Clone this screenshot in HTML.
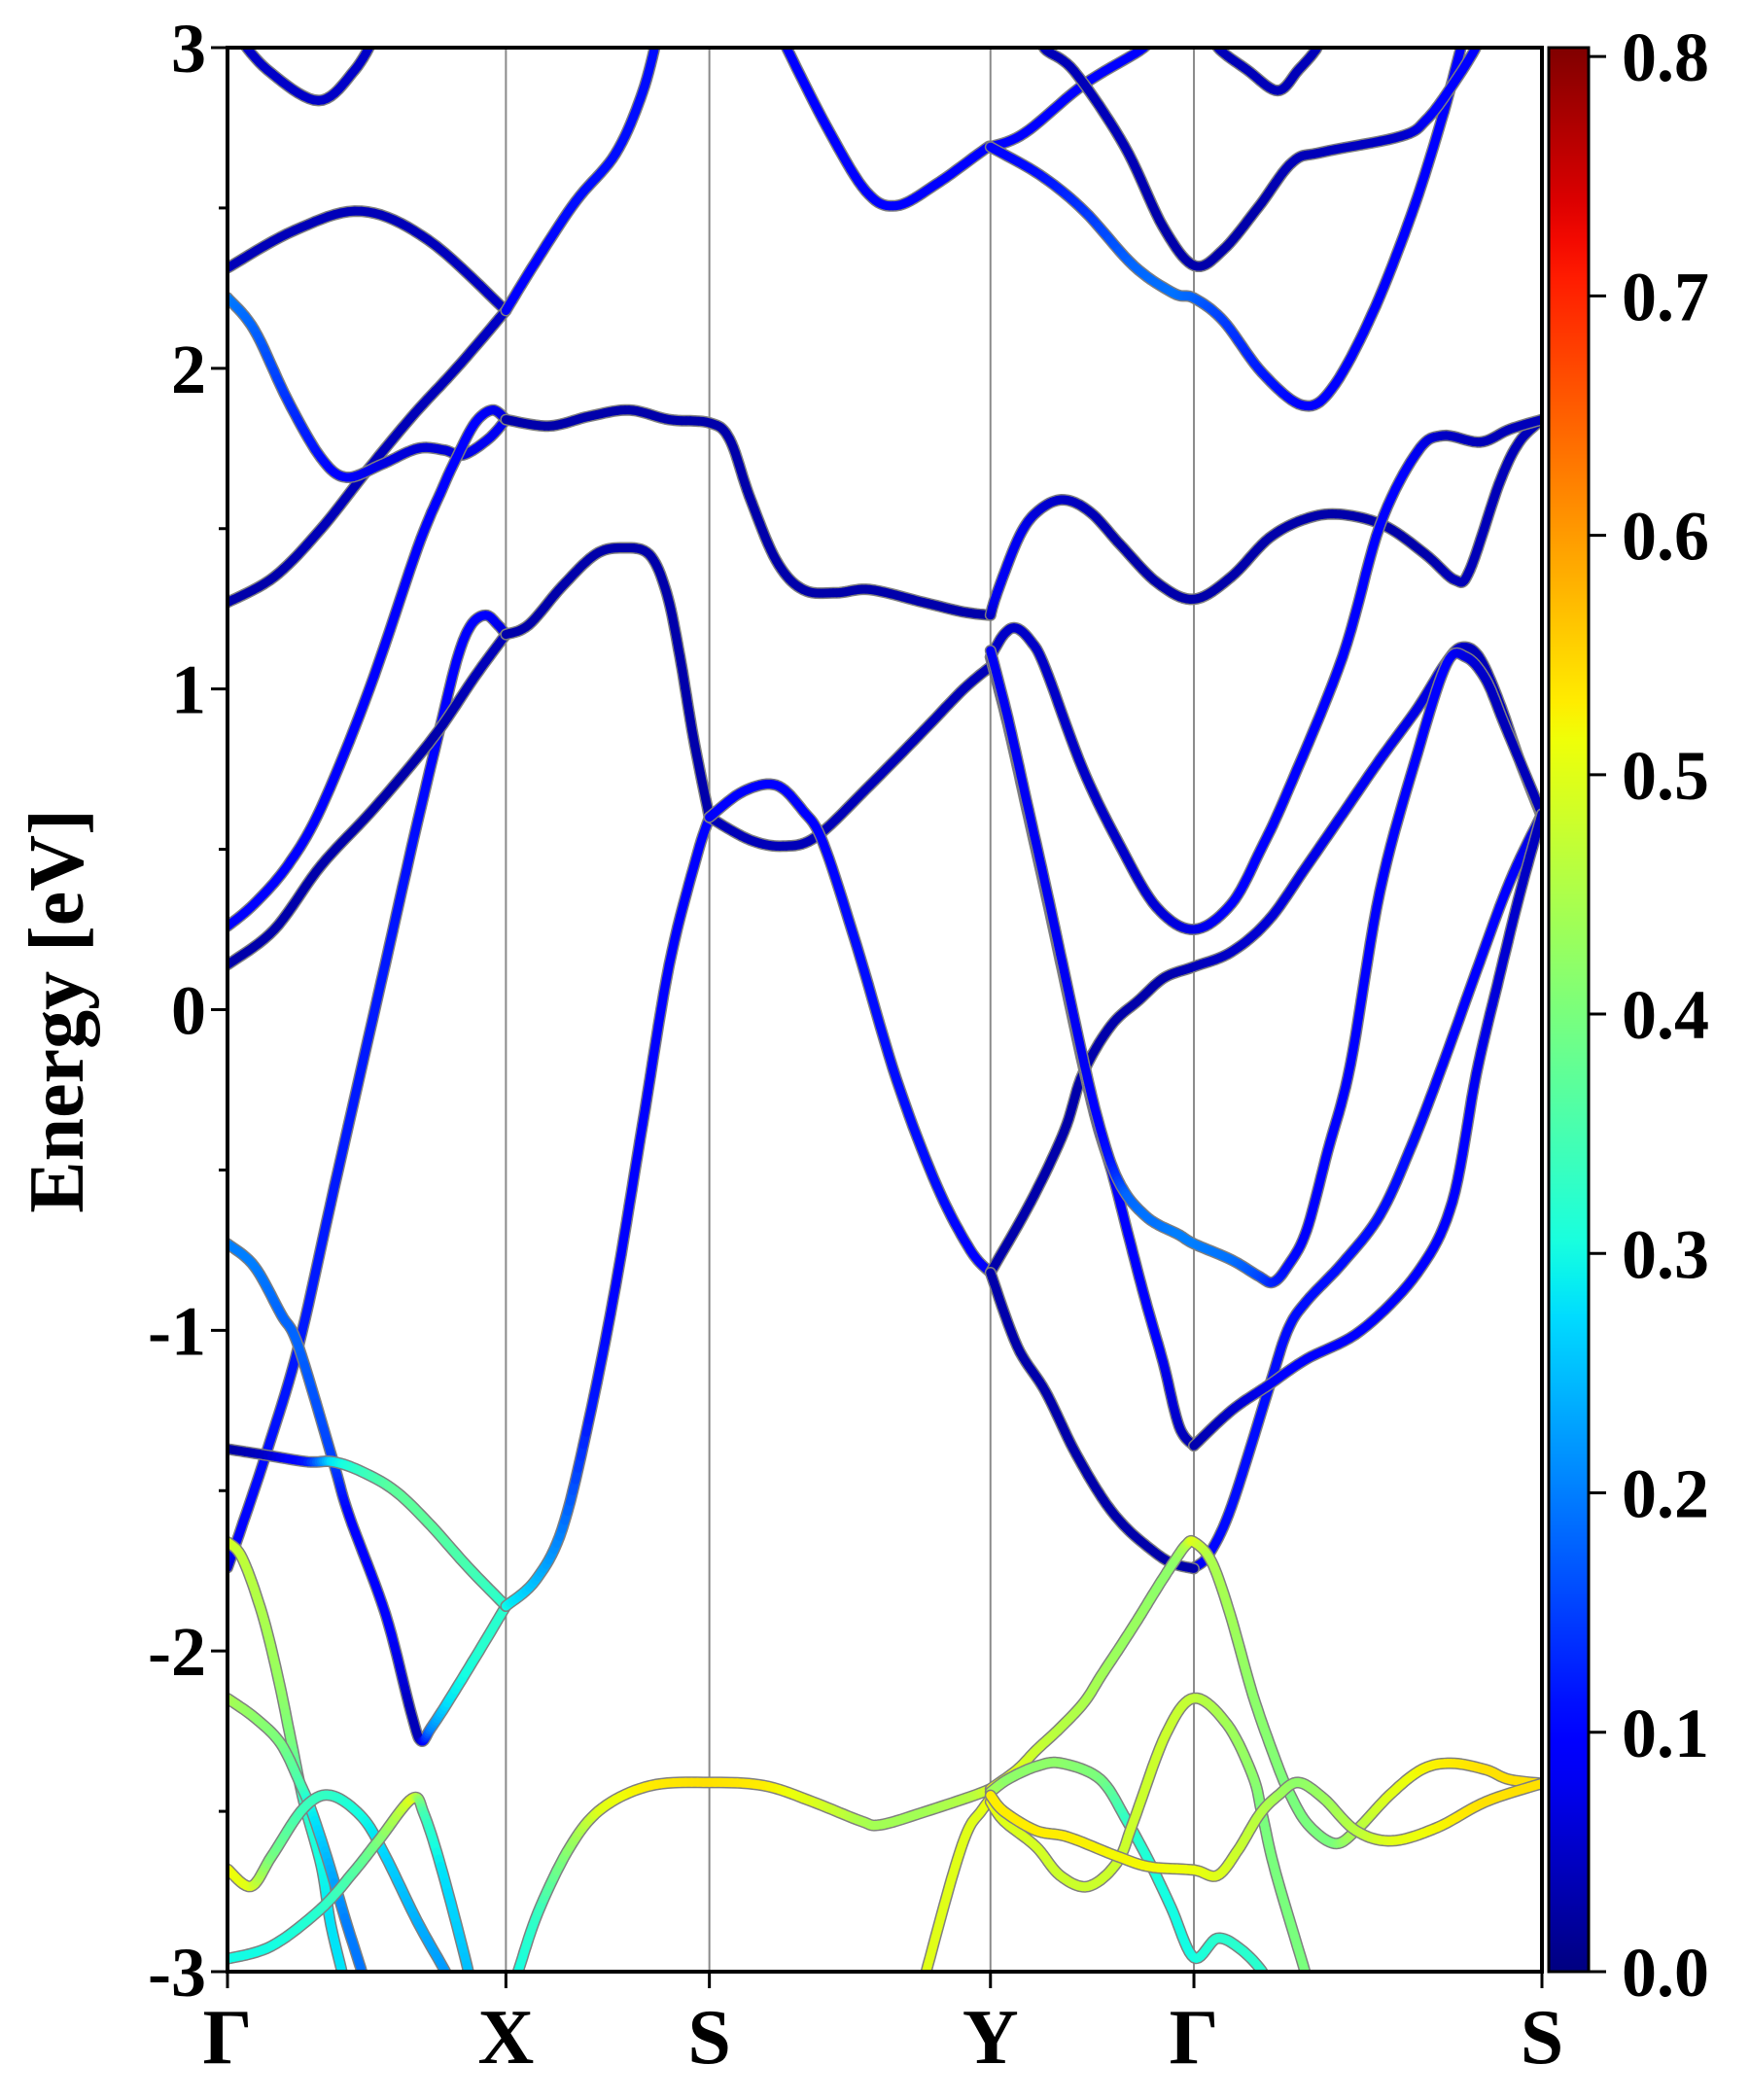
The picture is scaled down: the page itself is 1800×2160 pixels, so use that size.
<!DOCTYPE html>
<html><head><meta charset="utf-8">
<style>
html,body{margin:0;padding:0;background:#fff;}
svg{display:block;}
text{font-family:"Liberation Serif","DejaVu Serif",serif;font-weight:bold;fill:#000;}
</style></head>
<body>
<svg id="chart" xmlns="http://www.w3.org/2000/svg" width="1800" height="2160" viewBox="0 0 1800 2160">
<rect x="0" y="0" width="1800" height="2160" fill="#fff"/>
<defs>
<clipPath id="plotclip"><rect x="234" y="49" width="1352" height="1979"/></clipPath>
<linearGradient id="jet" x1="0" y1="1" x2="0" y2="0"></linearGradient>
</defs>
<g id="grid"></g>
<g id="bands" clip-path="url(#plotclip)"></g>
<g id="axes"></g>
<text x="0" y="0" font-size="80" text-anchor="middle" transform="translate(85,1040) rotate(-90)">Energy [eV]</text>
<rect x="1593" y="49" width="41" height="1979" fill="url(#jet)" stroke="#000" stroke-width="3"/>
<g id="cbar"></g>
</svg>
<script>
// ---- axis data ----
const kTickPos = [0, 208, 360, 570, 722, 982];
const kTickLabels = ["Γ", "X", "S", "Y", "Γ", "S"];
const eTicks = [3, 2, 1, 0, -1, -2, -3];
const eTickLabels = ["3", "2", "1", "0", "-1", "-2", "-3"];
const cbTicks = [0.0, 0.1, 0.2, 0.3, 0.4, 0.5, 0.6, 0.7, 0.8];
const cbTickLabels = ["0.0", "0.1", "0.2", "0.3", "0.4", "0.5", "0.6", "0.7", "0.8"];
const cbMax = 0.8037;

// ---- band data: [k, energy(eV), weight] ----
const bandA1 = [[5,3.05,.05],[30,2.93,.05],[68,2.835,.05],[95,2.93,.05],[112,3.05,.05]];
const bandA2 = [[0,2.313,.04],[50,2.43,.04],[100,2.49,.04],[150,2.40,.04],[208,2.18,.05]];
const bandA3 = [[0,1.27,.03],[35,1.35,.03],[70,1.50,.04],[106,1.69,.04],[140,1.86,.04],[171,2.0,.04],[208,2.18,.05]];
const bandXT = [[208,2.18,.08],[230,2.33,.1],[260,2.52,.11],[290,2.67,.11],[310,2.86,.11],[322,3.05,.11]];
const bandA4 = [[0,2.22,.2],[20,2.12,.18],[45,1.90,.14],[70,1.72,.11],[89,1.66,.09],[115,1.70,.07],[142,1.75,.06],[162,1.745,.06],[176,1.73,.07],[195,1.78,.08],[208,1.84,.08]];
const bandA5 = [[0,0.26,.1],[20,0.33,.1],[45,0.45,.1],[70,0.63,.1],[106,1.0,.1],[142,1.44,.1],[160,1.62,.1],[171,1.72,.1],[185,1.83,.09],[198,1.87,.08],[208,1.84,.07]];
const bandA6 = [[0,-1.74,.05],[10,-1.62,.1],[30,-1.37,.11],[53,-1.05,.12],[80,-0.55,.12],[115,0.09,.12],[140,0.55,.11],[160,0.9,.1],[172,1.1,.1],[182,1.2,.1],[193,1.23,.09],[202,1.2,.08],[208,1.17,.06]];
const bandA7 = [[0,0.14,.03],[35,0.25,.03],[70,0.45,.03],[110,0.63,.03],[154,0.85,.03],[185,1.04,.04],[208,1.17,.04]];
const bandA8 = [[0,-0.73,.2],[20,-0.80,.2],[40,-0.95,.18],[53,-1.05,.18],[79,-1.41,.15],[91,-1.58,.1],[118,-1.885,.1],[137,-2.19,.04],[144.5,-2.28,.04],[152,-2.24,.2],[166,-2.15,.28],[190,-1.986,.32],[208,-1.86,.32]];
const bandA9 = [[0,-1.37,.02],[30,-1.39,.05],[60,-1.41,.12],[79,-1.41,.28],[100,-1.44,.33],[125,-1.5,.37],[150,-1.6,.37],[180,-1.74,.35],[208,-1.86,.32]];
const bandXS = [[208,-1.86,.3],[230,-1.78,.25],[250,-1.62,.2],[270,-1.28,.12],[290,-0.86,.1],[310,-0.36,.1],[330,0.14,.1],[350,0.47,.1],[360,0.6,.1]];
const bandXSdark = [[208,1.84,.03],[240,1.82,.03],[270,1.85,.03],[300,1.87,.03],[330,1.84,.03],[360,1.83,.03],[375,1.78,.03],[390,1.6,.03],[410,1.40,.03],[430,1.31,.03],[455,1.30,.03],[480,1.31,.03],[520,1.27,.03],[550,1.24,.03],[570,1.23,.03]];
const bandXSpeak = [[208,1.17,.03],[225,1.2,.03],[250,1.32,.03],[275,1.42,.03],[295,1.44,.03],[315,1.42,.03],[328,1.3,.03],[338,1.1,.03],[348,0.85,.03],[360,0.6,.03]];
const bandS1 = [[360,0.6,.04],[390,0.53,.04],[415,0.51,.04],[440,0.54,.04],[480,0.7,.04],[520,0.87,.04],[550,1.0,.04],[570,1.07,.04]];
const bandS2 = [[360,0.6,.08],[385,0.68,.1],[410,0.7,.1],[430,0.62,.1],[445,0.52,.1],[470,0.2,.11],[500,-0.22,.11],[530,-0.55,.11],[555,-0.75,.1],[570,-0.82,.08]];
const bandU1 = [[412,3.05,.1],[418,2.997,.1],[447.6,2.754,.1],[477,2.552,.1],[499.5,2.507,.1],[529,2.573,.1],[566,2.684,.1],[570,2.69,.1],[595.7,2.734,.1],[640,2.886,.1],[684.6,3.0,.1],[690,3.05,.1]];
const bandU2 = [[570,2.69,.1],[607,2.603,.11],[640,2.491,.14],[677,2.32,.18],[707,2.234,.19],[722,2.219,.18],[744,2.148,.15],[773,1.986,.12],[803,1.885,.1],[825,1.936,.1],[855,2.168,.1],[884.5,2.48,.1],[907,2.775,.1],[921.5,3.0,.1],[925,3.05,.1]];
const bandU3 = [[608,3.05,.04],[610.5,2.997,.04],[632.7,2.926,.04],[670,2.694,.04],[699,2.441,.03],[722.4,2.32,.03],[744,2.37,.03],[770,2.502,.03],[795.6,2.643,.04],[818,2.674,.04],[877,2.724,.05],[895.6,2.775,.08],[914,2.876,.1],[932.6,3.0,.1],[935,3.05,.1]];
const bandU4 = [[738,3.05,.04],[740,3.0,.04],[762,2.93,.04],[784.5,2.866,.04],[800,2.93,.04],[814,3.0,.04],[816,3.05,.04]];
const bandM1 = [[570,1.23,.04],[575,1.30,.08],[592,1.48,.08],[607,1.56,.06],[625,1.59,.05],[645,1.55,.04],[667,1.45,.03],[695,1.33,.03],[722,1.28,.03],[750,1.35,.03],[778,1.47,.03],[805,1.53,.03],[831,1.545,.03],[864,1.51,.03],[895,1.42,.03],[917,1.34,.04],[928,1.37,.04],[950,1.64,.04],[965,1.77,.04],[982,1.84,.04]];
const bandCa = [[570,1.10,.05],[580,1.17,.05],[589,1.19,.05],[600,1.15,.05],[611,1.065,.05],[639,0.75,.05],[667,0.51,.05],[694,0.32,.06],[722,0.25,.07],[750,0.33,.09],[772,0.5,.1],[792,0.68,.1],[833,1.1,.1],[861,1.51,.1],[889,1.74,.08],[908,1.79,.05],[936,1.77,.04],[958,1.81,.04],[982,1.84,.04]];
const bandCb = [[570,-0.82,.03],[600,-0.6,.03],[625,-0.38,.03],[639,-0.2,.03],[660,-0.05,.03],[681,0.03,.03],[700,0.1,.03],[722,0.134,.04],[750,0.18,.05],[778,0.28,.06],[805,0.44,.07],[833,0.61,.08],[861,0.78,.08],[889,0.94,.07],[910,1.08,.06],[922,1.13,.05],[935,1.1,.04],[950,0.96,.04],[965,0.78,.04],[982,0.6,.04]];
const bandP = [[570,1.10,.03],[583,0.89,.03],[597,0.63,.03],[611,0.37,.03],[625,0.10,.03],[639,-0.17,.04],[650,-0.36,.06],[661,-0.51,.08],[674,-0.72,.1],[686,-0.91,.1],[699,-1.1,.08],[711,-1.30,.05],[722,-1.36,.03]];
const bandQ = [[570,1.12,.08],[583,0.91,.08],[597,0.65,.08],[611,0.39,.08],[625,0.12,.08],[639,-0.15,.08],[650,-0.34,.09],[661,-0.49,.12],[672,-0.58,.18],[685,-0.64,.19],[695,-0.67,.19],[710,-0.70,.2],[722,-0.73,.2],[750,-0.78,.19],[770,-0.83,.16],[781,-0.85,.13],[792,-0.80,.11],[806,-0.69,.1],[822,-0.44,.1],[839,-0.17,.1],[861,0.37,.1],[889,0.80,.1],[911,1.08,.09],[925,1.10,.07],[940,1.03,.05],[955,0.88,.04],[982,0.61,.04]];
const bandR1 = [[722,-1.74,.05],[733,-1.70,.1],[750,-1.55,.11],[778,-1.18,.11],[792,-1.0,.11],[806,-0.91,.11],[833,-0.79,.11],[861,-0.64,.11],[885,-0.42,.11],[908,-0.17,.1],[933,0.12,.1],[958,0.40,.09],[982,0.61,.06]];
const bandR2 = [[722,-1.36,.03],[750,-1.25,.05],[778,-1.17,.08],[806,-1.09,.1],[847,-1.0,.1],[889,-0.82,.1],[915,-0.6,.1],[933,-0.2,.08],[950,0.1,.06],[966,0.37,.05],[982,0.61,.04]];
const bandDG = [[570,-0.82,.03],[590,-1.05,.03],[611,-1.19,.03],[632,-1.37,.03],[653,-1.52,.03],[670,-1.61,.03],[689,-1.68,.03],[705,-1.725,.03],[722,-1.743,.03]];
const bandA10 = [[0,-1.66,.5],[11,-1.71,.47],[26,-1.885,.45],[38,-2.087,.43],[48,-2.29,.4],[57,-2.47,.33],[70,-2.67,.3],[77,-2.85,.28],[86,-3.01,.28],[87,-3.05,.28]];
const bandA11 = [[0,-2.148,.45],[21,-2.21,.42],[40,-2.29,.4],[55,-2.42,.35],[62,-2.49,.3],[74,-2.64,.25],[89,-2.85,.2],[101,-3.01,.19],[102,-3.05,.19]];
const bandA12 = [[0,-2.68,.52],[17.5,-2.734,.5],[33,-2.64,.4],[57,-2.49,.34],[77,-2.45,.33],[101,-2.52,.3],[118,-2.64,.27],[142,-2.845,.24],[164,-3.01,.22],[166,-3.05,.22]];
const bandA13 = [[0,-2.96,.3],[33,-2.92,.3],[69.5,-2.805,.32],[94,-2.69,.36],[113,-2.59,.4],[138,-2.46,.5],[147,-2.51,.35],[161,-2.695,.28],[180,-3.0,.25],[181,-3.05,.25]];
const bandXS1 = [[212,-3.05,.3],[217,-3.0,.3],[232,-2.815,.33],[256,-2.61,.42],[280,-2.49,.5],[316,-2.42,.53],[360,-2.41,.54],[401,-2.42,.53],[437,-2.47,.5],[473,-2.53,.45],[488,-2.542,.44],[522,-2.50,.44],[558,-2.45,.46],[570,-2.43,.5]];
const bandSY2 = [[519,-3.05,.5],[522,-3.0,.5],[541,-2.71,.5],[553,-2.56,.5],[563,-2.5,.5],[570,-2.46,.52]];
const bandYG1 = [[570,-2.43,.52],[590,-2.37,.5],[604,-2.31,.48],[622,-2.24,.46],[640,-2.16,.45],[653,-2.075,.44],[668,-1.98,.43],[681,-1.895,.43],[695,-1.8,.42],[708,-1.716,.42],[716,-1.67,.45],[722,-1.66,.5],[735,-1.72,.45],[749,-1.885,.44],[766,-2.137,.42],[783,-2.34,.41],[793,-2.44,.4],[807,-2.54,.4],[827,-2.60,.4],[843,-2.56,.45],[868,-2.45,.5],[892,-2.37,.52],[914,-2.35,.53],[940,-2.37,.54],[957,-2.40,.54],[982,-2.413,.54]];
const bandYG2 = [[570,-2.44,.45],[583,-2.40,.42],[604,-2.36,.42],[623,-2.35,.42],[652,-2.40,.4],[672,-2.53,.33],[689,-2.66,.31],[705,-2.8,.3],[722,-2.956,.3],[739.5,-2.896,.32],[757,-2.93,.32],[773,-3.0,.32],[776,-3.05,.32]];
const bandYG3 = [[570,-2.47,.52],[580,-2.53,.5],[604,-2.61,.49],[622,-2.70,.48],[643,-2.734,.48],[664.5,-2.66,.48],[677,-2.53,.48],[701,-2.26,.48],[722,-2.147,.47],[747,-2.23,.44],[766,-2.39,.42],[773,-2.51,.4],[783,-2.69,.4],[805,-3.0,.4],[808,-3.05,.4]];
const bandYG4 = [[570,-2.45,.53],[580,-2.5,.53],[604,-2.56,.53],[628,-2.58,.53],[664.5,-2.64,.52],[689,-2.673,.52],[722,-2.683,.51],[739.5,-2.70,.5],[755,-2.62,.48],[771,-2.51,.46],[785,-2.45,.44],[800,-2.41,.42],[819,-2.46,.43],[843,-2.56,.46],[870,-2.592,.5],[904,-2.55,.52],[940,-2.47,.54],[982,-2.413,.54]];

const allBands = [
  ["band-a1",bandA1],["band-a2",bandA2],["band-a3",bandA3],["band-x-top",bandXT],["band-a4",bandA4],
  ["band-a5",bandA5],["band-a6",bandA6],["band-a7",bandA7],["band-a8",bandA8],["band-a9",bandA9],
  ["band-x-s-steep",bandXS],["band-x-s-dark",bandXSdark],["band-x-s-peak",bandXSpeak],["band-s1",bandS1],["band-s2",bandS2],
  ["band-u1",bandU1],["band-u2",bandU2],["band-u3",bandU3],["band-u4",bandU4],["band-m1",bandM1],
  ["band-ca",bandCa],["band-cb",bandCb],["band-p",bandP],["band-q",bandQ],["band-r1",bandR1],["band-r2",bandR2],["band-dg",bandDG],
  ["band-a10",bandA10],["band-a11",bandA11],["band-a12",bandA12],["band-a13",bandA13],["band-xs1",bandXS1],["band-sy2",bandSY2],
  ["band-yg1",bandYG1],["band-yg2",bandYG2],["band-yg3",bandYG3],["band-yg4",bandYG4]
];

const NS = "http://www.w3.org/2000/svg";
const PL = 234, PR = 1586, PT = 49, PB = 2028;
const kMax = 982, eMin = -3, eMax = 3;
function xScale(k){ return PL + k*(PR-PL)/kMax; }
function yScale(e){ return PT + (eMax-e)*(PB-PT)/(eMax-eMin); }
function cbScale(v){ return PB - v*(PB-PT)/cbMax; }
function clip(v){ return Math.max(0, Math.min(1, v)); }
function pw(t, seg){
  for (let i=0;i<seg.length-1;i++){
    const a=seg[i], b=seg[i+1];
    if (t<=b[0]) return a[1]+(b[1]-a[1])*(t-a[0])/(b[0]-a[0]);
  }
  return seg[seg.length-1][1];
}
const jetR = [[0,0],[0.35,0],[0.66,1],[0.89,1],[1,0.5]];
const jetG = [[0,0],[0.125,0],[0.375,1],[0.64,1],[0.91,0],[1,0]];
const jetB = [[0,0.5],[0.11,1],[0.34,1],[0.65,0],[1,0]];
function jetT(t){
  t = clip(t);
  return "rgb(" + Math.round(pw(t,jetR)*255) + "," + Math.round(pw(t,jetG)*255) + "," + Math.round(pw(t,jetB)*255) + ")";
}
function jet(w){ return jetT(w/cbMax); }
function mk(tag, attrs, parent){
  const el = document.createElementNS(NS, tag);
  for (const a in attrs) el.setAttribute(a, attrs[a]);
  parent.appendChild(el);
  return el;
}
function cr(p0,p1,p2,p3,t){
  const t2=t*t, t3=t2*t;
  return 0.5*((2*p1)+(-p0+p2)*t+(2*p0-5*p1+4*p2-p3)*t2+(-p0+3*p1-3*p2+p3)*t3);
}

// colorbar gradient
const grad = document.getElementById("jet");
for (let i=0;i<=50;i++){
  mk("stop", {offset:(i/50).toFixed(3), "stop-color":jetT(i/50)}, grad);
}

// gridlines
const grid = document.getElementById("grid");
kTickPos.forEach((k,i) => {
  if (i===0 || i===kTickPos.length-1) return;
  const l = mk("line", {x1:xScale(k), x2:xScale(k), y1:PT, y2:PB, stroke:"#8a8a8a", "stroke-width":2}, grid);
  
  
});

// bands
const bandsG = document.getElementById("bands");
allBands.forEach(([name, pts]) => {
  const g = mk("g", {}, bandsG);
  
  
  const samp = [];
  const n = pts.length;
  for (let i=0;i<n-1;i++){
    const a = pts[Math.max(0,i-1)], b = pts[i], c = pts[i+1], d = pts[Math.min(n-1,i+2)];
    const N = 10;
    for (let s=0;s<N;s++){
      const t = s/N;
      samp.push([cr(a[0],b[0],c[0],d[0],t), cr(a[1],b[1],c[1],d[1],t), b[2]+(c[2]-b[2])*t]);
    }
  }
  samp.push(pts[n-1]);
  const dstr = samp.map((p,i)=>(i?"L":"M")+xScale(p[0]).toFixed(1)+","+yScale(p[1]).toFixed(1)).join("");
  mk("path", {d:dstr, fill:"none", stroke:"#7f7f7f", "stroke-width":12, "stroke-linejoin":"round", "stroke-linecap":"round"}, g);
  for (let i=0;i<samp.length-1;i++){
    const p=samp[i], q=samp[i+1];
    mk("line", {x1:xScale(p[0]).toFixed(1), y1:yScale(p[1]).toFixed(1), x2:xScale(q[0]).toFixed(1), y2:yScale(q[1]).toFixed(1),
      stroke:jet((p[2]+q[2])/2), "stroke-width":9, "stroke-linecap":"round"}, g);
  }
});

// axes frame & ticks
const axes = document.getElementById("axes");
const frame = mk("rect", {x:PL, y:PT, width:PR-PL, height:PB-PT, fill:"none", stroke:"#000", "stroke-width":4}, axes);


for (let e=-3; e<=3.001; e+=0.5){
  const major = Math.abs(e-Math.round(e))<1e-6;
  const t = mk("line", {x1:PL, x2:PL-(major?17:9), y1:yScale(e), y2:yScale(e), stroke:"#000", "stroke-width":3}, axes);
  
  
}
eTicks.forEach((e,i) => {
  const tx = mk("text", {x:212, y:yScale(e)+25, "font-size":72, "text-anchor":"end"}, axes);
  tx.textContent = eTickLabels[i];
  
  
});
kTickPos.forEach((k,i) => {
  const t = mk("line", {x1:xScale(k), x2:xScale(k), y1:PB, y2:PB+17, stroke:"#000", "stroke-width":3}, axes);
  
  
  const tx = mk("text", {x:xScale(k), y:2122, "font-size":80, "text-anchor":"middle"}, axes);
  tx.textContent = kTickLabels[i];
  
  
});

// colorbar ticks
const cbar = document.getElementById("cbar");
cbTicks.forEach((v,i) => {
  const y = cbScale(v);
  const t = mk("line", {x1:1634, x2:1652, y1:y, y2:y, stroke:"#000", "stroke-width":3}, cbar);
  
  
  const tx = mk("text", {x:1668, y:y+25, "font-size":72, "text-anchor":"start"}, cbar);
  tx.textContent = cbTickLabels[i];
  
  
});
</script>
</body></html>
